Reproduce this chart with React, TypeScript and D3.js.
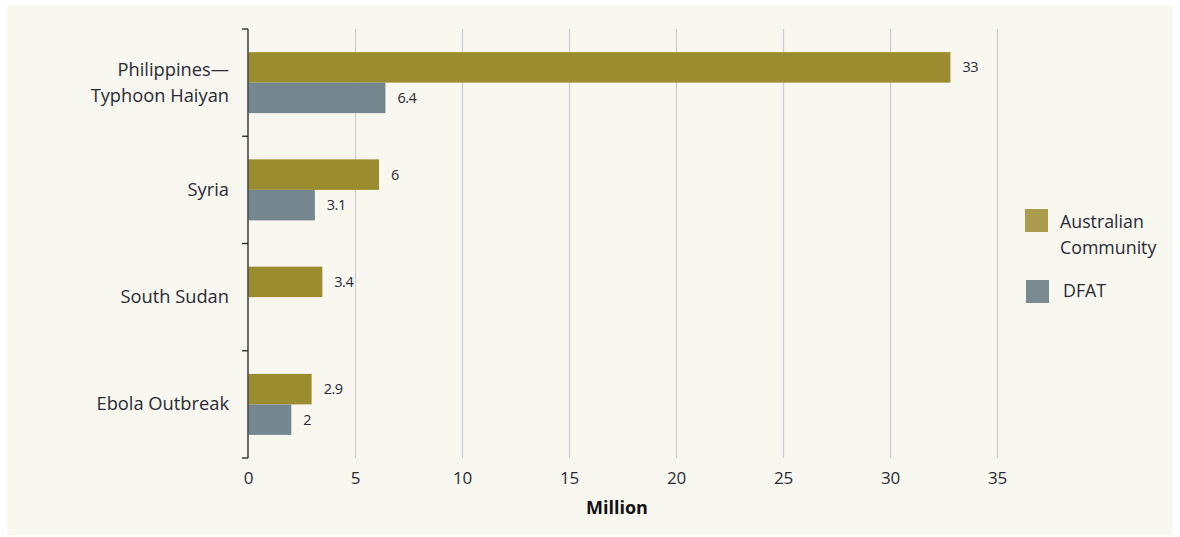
import React from "react";
import * as d3 from "d3";

const categories = ["Philippines—\nTyphoon Haiyan", "Syria", "South Sudan", "Ebola Outbreak"];
const australianCommunity = [32.8, 6.1, 3.45, 2.95];
const dfat: (number | null)[] = [6.4, 3.1, null, 2];
const acLabels = ["33", "6", "3.4", "2.9"];
const dfatLabels = ["6.4", "3.1", "", "2"];
const xTicks = [0, 5, 10, 15, 20, 25, 30, 35];
const seriesNames = ["Australian\nCommunity", "DFAT"];

const W = 1180;
const H = 537;
const FONT = "'Open Sans', Lato, sans-serif";
const AC_COLOR = "#9b8d2f";
const DFAT_COLOR = "#74868e";
const TEXT = "#2a2a35";

export default function App() {
  const x = d3.scaleLinear().domain([0, 35]).range([248.5, 997.5]);
  const y = d3.scaleBand<string>().domain(categories).range([29, 458]);
  const barH = 30.5;

  return (
    <svg width={W} height={H} style={{ position: "absolute", left: 0, top: 0 }} fontFamily={FONT}>
      <rect x={0} y={0} width={W} height={H} fill="#ffffff" />
      <rect x={7} y={5} width={1166} height={530} fill="#f8f7f0" />

      {/* grid lines */}
      {xTicks.filter((t) => t > 0).map((t) => (
        <line key={t} x1={x(t)} x2={x(t)} y1={29} y2={458} stroke="#c8d0d5" strokeWidth={1.2} />
      ))}

      {/* bars */}
      {categories.map((c, i) => {
        const cy = (y(c) as number) + y.bandwidth() / 2;
        const ac = australianCommunity[i];
        const df = dfat[i];
        return (
          <g key={c}>
            <rect x={x(0)} y={cy - barH} width={x(ac) - x(0)} height={barH} fill={AC_COLOR} />
            <text x={x(ac) + 12} y={cy - barH / 2 + 5} fontSize={14.5} fill={TEXT} letterSpacing={-0.5}>{acLabels[i]}</text>
            {df !== null && (
              <>
                <rect x={x(0)} y={cy} width={x(df) - x(0)} height={barH} fill={DFAT_COLOR} />
                <text x={x(df) + 12} y={cy + barH / 2 + 5} fontSize={14.5} fill={TEXT} letterSpacing={-0.5}>{dfatLabels[i]}</text>
              </>
            )}
            {c.split("\n").map((line, k, arr) => (
              <text key={k} x={229} y={cy + 6 + (k - (arr.length - 1) / 2) * 26} textAnchor="end" fontSize={18.3} fill={TEXT}>
                {line}
              </text>
            ))}
          </g>
        );
      })}

      {/* y axis */}
      <line x1={248} x2={248} y1={29} y2={458} stroke="#222" strokeWidth={1.3} />
      {[...categories.map((c) => y(c) as number), 458].map((v, i) => (
        <line key={i} x1={242} x2={248} y1={v} y2={v} stroke="#222" strokeWidth={1.3} />
      ))}

      {/* x tick labels */}
      {xTicks.map((t) => (
        <text key={t} x={x(t)} y={484} textAnchor="middle" fontSize={17} fill={TEXT} letterSpacing={-0.3}>{t}</text>
      ))}
      <text x={617} y={514} textAnchor="middle" fontSize={18} fontWeight="bold" fill="#111">Million</text>

      {/* legend */}
      <rect x={1025} y={209} width={23} height={23} fill="#aa9c4c" />
      {seriesNames[0].split("\n").map((line, k) => (
        <text key={k} x={1060} y={228 + k * 26} fontSize={17.8} fill={TEXT}>{line}</text>
      ))}
      <rect x={1026} y={280} width={23} height={23} fill="#7a8a91" />
      <text x={1063} y={297} fontSize={17.8} fill={TEXT}>{seriesNames[1]}</text>
    </svg>
  );
}
